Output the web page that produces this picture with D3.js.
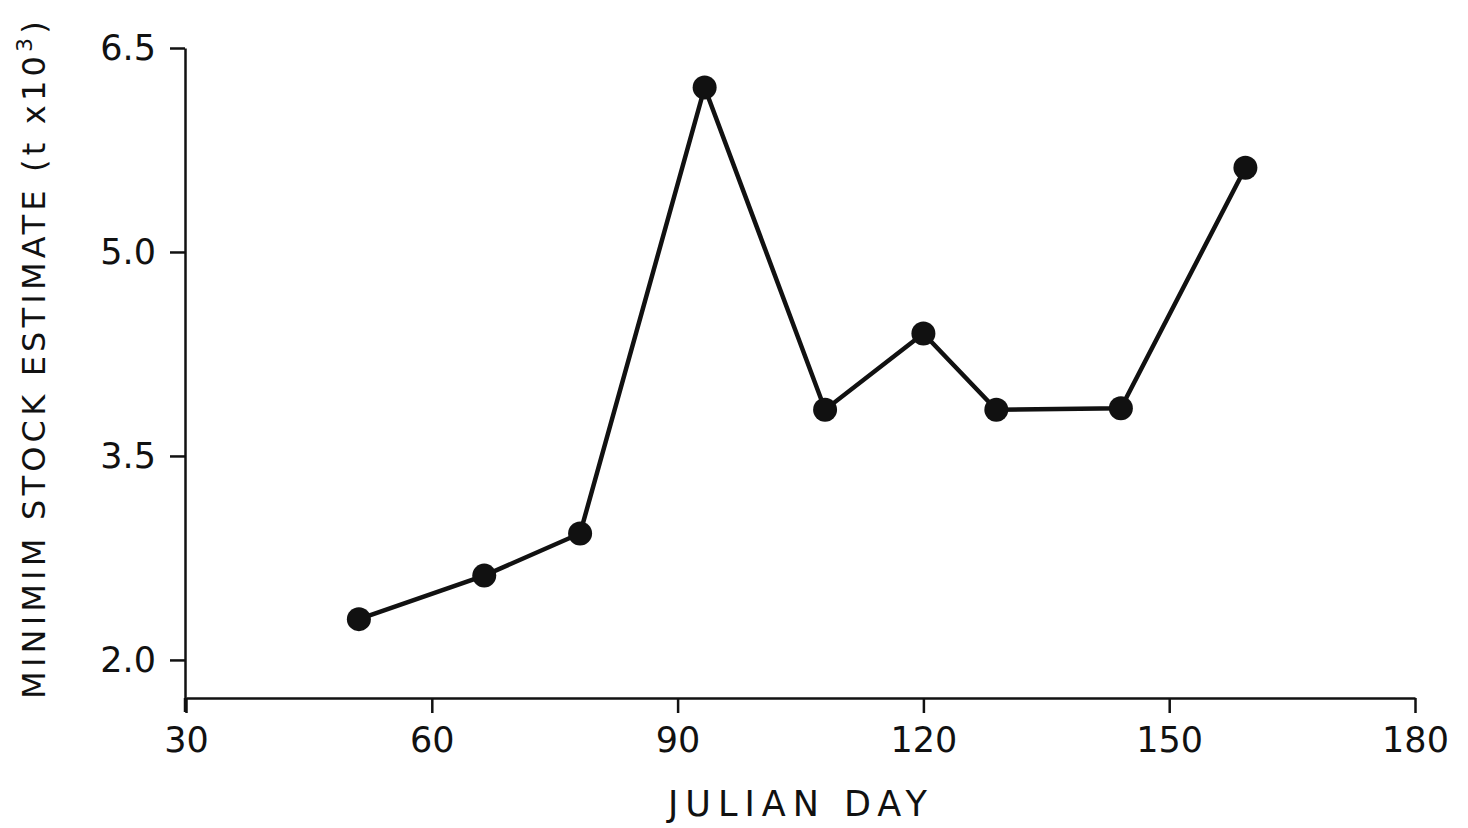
<!DOCTYPE html>
<html>
<head>
<meta charset="utf-8">
<script src="https://cdn.jsdelivr.net/npm/d3@7"></script>
<style>
  body { margin: 0; background: #fff; }
  text { font-family: "DejaVu Sans", sans-serif; fill: #111; }
</style>
</head>
<body>
<div id="chart"></div>
<script>
// Data
const days = [51.1, 66.4, 78.1, 93.3, 108, 120, 128.9, 144.1, 159.3];
const stock = [2.30, 2.62, 2.93, 6.21, 3.84, 4.40, 3.84, 3.85, 5.62];
const xTicks = [30, 60, 90, 120, 150, 180];
const yTicks = [2.0, 3.5, 5.0, 6.5];

const points = days.map((d, i) => ({ day: d, value: stock[i] }));

const width = 1468, height = 828;
const margin = { top: 48, right: 53, bottom: 130, left: 186 };

const svg = d3.select('#chart')
  .append('svg')
  .attr('width', width)
  .attr('height', height);

// Scales
const x = d3.scaleLinear()
  .domain([30, 180])
  .range([margin.left, width - margin.right]);

const y = d3.scaleLinear()
  .domain([1.72, 6.5])
  .range([height - margin.bottom, margin.top]);

// X axis
const xAxis = svg.append('g')
  .attr('transform', `translate(0, ${height - margin.bottom})`)
  .call(d3.axisBottom(x).tickValues(xTicks).tickFormat(d3.format('d'))
    .tickSize(15).tickSizeOuter(0).tickPadding(14));

// Y axis
const yAxis = svg.append('g')
  .attr('transform', `translate(${margin.left - 1}, 0)`)
  .call(d3.axisLeft(y).tickValues(yTicks).tickFormat(d3.format('.1f'))
    .tickSize(15).tickSizeOuter(0).tickPadding(14));

[xAxis, yAxis].forEach(g => {
  g.select('.domain').attr('stroke', '#111').attr('stroke-width', 2.5);
  g.selectAll('.tick line').attr('stroke', '#111').attr('stroke-width', 2.5);
  g.selectAll('.tick text').attr('font-size', 35).attr('fill', '#111')
    .attr('font-family', '"DejaVu Sans", sans-serif');
});

// extend y axis a little below x axis like the original
yAxis.append('line')
  .attr('x1', 0).attr('x2', 0)
  .attr('y1', y(1.72)).attr('y2', y(1.72) + 14)
  .attr('stroke', '#111').attr('stroke-width', 2.5);

// Axis titles
svg.append('text')
  .attr('x', 801)
  .attr('y', 816)
  .attr('text-anchor', 'middle')
  .attr('font-size', 35)
  .attr('letter-spacing', 7)
  .text('JULIAN DAY');

const yl = svg.append('text')
  .attr('transform', `translate(45, 358) rotate(-90)`)
  .attr('text-anchor', 'middle')
  .attr('font-size', 32)
  .attr('letter-spacing', 4.2);
yl.append('tspan').text('MINIMIM STOCK ESTIMATE (t x10');
yl.append('tspan').attr('dy', -13).attr('font-size', 22).text('3');
yl.append('tspan').attr('dy', 13).text(')');

// Line
const line = d3.line()
  .x(d => x(d.day))
  .y(d => y(d.value));

svg.append('path')
  .datum(points)
  .attr('d', line)
  .attr('fill', 'none')
  .attr('stroke', '#111')
  .attr('stroke-width', 4.5);

// Points
svg.selectAll('.pt')
  .data(points)
  .enter()
  .append('circle')
  .attr('class', 'pt')
  .attr('cx', d => x(d.day))
  .attr('cy', d => y(d.value))
  .attr('r', 12)
  .attr('fill', '#111');
</script>
</body>
</html>
